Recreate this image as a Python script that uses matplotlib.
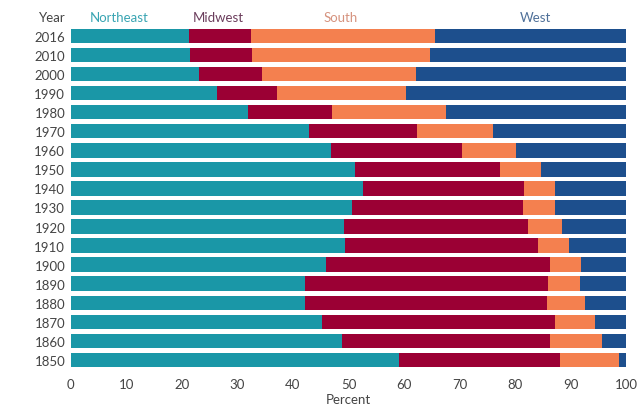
import matplotlib
matplotlib.use("Agg")
import matplotlib.pyplot as plt
import numpy as np

plt.rcParams['font.family'] = ['Lato', 'DejaVu Sans']

years = ["2016", "2010", "2000", "1990", "1980", "1970", "1960", "1950", "1940",
         "1930", "1920", "1910", "1900", "1890", "1880", "1870", "1860", "1850"]
# cumulative boundaries (percent)
northeast_end = [21.3, 21.5, 23.1, 26.4, 31.9, 42.8, 46.9, 51.1, 52.6,
                 50.7, 49.2, 49.4, 46.0, 42.1, 42.1, 45.2, 48.8, 59.1]
midwest_end = [32.4, 32.7, 34.4, 37.2, 47.0, 62.3, 70.4, 77.2, 81.6,
               81.4, 82.3, 84.1, 86.2, 85.9, 85.8, 87.1, 86.2, 88.0]
south_end = [65.5, 64.7, 62.2, 60.4, 67.6, 76.0, 80.2, 84.7, 87.1,
             87.1, 88.4, 89.7, 91.8, 91.6, 92.6, 94.4, 95.6, 98.7]

northeast = np.array(northeast_end)
midwest = np.array(midwest_end) - northeast
south = np.array(south_end) - np.array(midwest_end)
west = 100 - np.array(south_end)

regions = ["Northeast", "Midwest", "South", "West"]
colors = ["#1a97a7", "#9b0034", "#f4804f", "#1d4f8d"]
label_colors = ["#3aa5b3", "#6b3d5c", "#d6937f", "#4f7099"]
label_x = [8.8, 26.5, 48.5, 83.6]

fig = plt.figure(figsize=(6.43, 4.06), dpi=100)
ax = fig.add_axes([0.110, 0.0875, 0.864, 0.845])

y = np.arange(len(years))
left = np.zeros(len(years))
for vals, c in zip([northeast, midwest, south, west], colors):
    ax.barh(y, vals, left=left, height=0.76, color=c, edgecolor='none')
    left = left + vals

ax.set_ylim(17.5, -0.5)
ax.set_xlim(0, 100)
ax.set_yticks(y)
ax.set_yticklabels(years)
ax.set_xticks(np.arange(0, 101, 10))
ax.tick_params(axis='both', length=0, labelsize=9.5, colors='#444444')
ax.tick_params(axis='y', pad=4)
ax.tick_params(axis='x', pad=6)
for s in ax.spines.values():
    s.set_visible(False)
ax.set_xlabel("Percent", fontsize=9.5, color='#444444', labelpad=2)

ax.text(-0.9, -1.0, "Year", ha='right', va='center', fontsize=9.5, color='#444444',
        clip_on=False)
for name, lx, lc in zip(regions, label_x, label_colors):
    ax.text(lx, -1.0, name, ha='center', va='center', fontsize=9.5, color=lc,
            clip_on=False)

fig.savefig("out.png", dpi=100)
